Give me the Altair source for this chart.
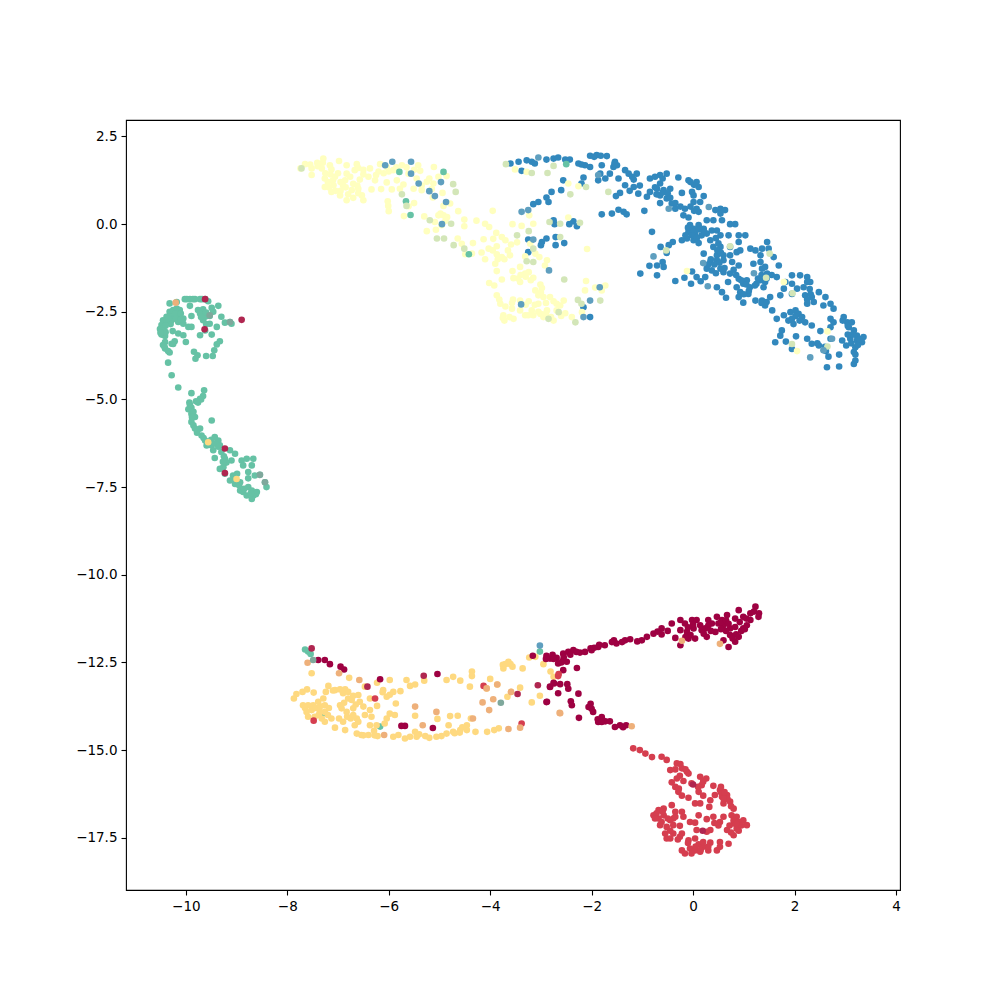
import altair as alt
import pandas as pd

GREEN = [(-10.32,-2.26),(-10.18,-2.22),(-10.02,-2.14),(-9.92,-2.14),(-9.82,-2.14),(-9.72,-2.14),(-9.62,-2.14),(-9.56,-2.20),(-9.92,-2.33),(-9.76,-2.45),(-9.66,-2.43),(-9.49,-2.39),(-9.46,-2.50),(-9.36,-2.33),(-9.69,-2.60),(-9.62,-2.64),(-9.53,-2.62),(-9.66,-2.74),(-9.53,-2.84),(-9.30,-2.64),(-9.39,-2.93),(-9.23,-2.81),(-9.13,-2.79),(-9.10,-2.84),(-9.49,-3.15),(-9.72,-3.17),(-9.62,-3.03),(-10.32,-2.50),(-10.25,-2.45),(-10.18,-2.41),(-10.12,-2.45),(-10.38,-2.64),(-10.32,-2.64),(-10.22,-2.60),(-10.12,-2.64),(-10.05,-2.69),(-10.45,-2.74),(-10.38,-2.79),(-10.28,-2.74),(-10.15,-2.79),(-10.05,-2.84),(-10.48,-2.88),(-10.51,-2.99),(-10.45,-2.98),(-10.48,-3.15),(-10.41,-3.19),(-10.26,-3.05),(-10.15,-3.12),(-10.05,-3.17),(-9.95,-2.93),(-9.89,-2.93),(-9.89,-2.62),(-10.41,-3.36),(-10.45,-3.45),(-10.41,-3.55),(-10.32,-3.66),(-10.28,-3.41),(-10.22,-3.34),(-10.0,-3.36),(-9.33,-3.34),(-9.39,-3.43),(-9.44,-3.60),(-9.47,-3.76),(-9.60,-3.76),(-9.84,-3.64),(-9.77,-3.74),(-9.81,-3.84),(-10.35,-3.95),(-10.28,-4.31),(-10.15,-4.66),(-9.89,-4.82),(-9.64,-4.74),(-9.66,-4.90),(-9.72,-4.98),(-9.76,-5.09),(-9.93,-5.09),(-9.89,-5.24),(-9.95,-5.28),(-9.89,-5.41),(-9.82,-5.50),(-9.49,-5.60),(-9.89,-5.64),(-9.85,-5.74),(-9.82,-5.83),(-9.72,-5.83),(-9.69,-6.03),(-9.62,-6.17),(-9.56,-6.22),(-9.43,-6.07),(-9.36,-6.17),(-9.49,-6.31),(-9.59,-6.31),(-9.46,-6.45),(-9.33,-6.31),(-9.30,-6.50),(-9.13,-6.45),(-9.03,-6.55),(-9.43,-6.67),(-9.23,-6.69),(-9.10,-6.74),(-9.26,-6.93),(-9.33,-6.98),(-8.90,-6.74),(-8.80,-6.69),(-8.67,-6.69),(-8.87,-6.88),(-8.70,-6.88),(-8.77,-7.07),(-9.23,-7.12),(-9.07,-7.17),(-8.99,-7.12),(-9.13,-7.31),(-9.03,-7.41),(-8.93,-7.36),(-8.77,-7.25),(-8.64,-7.17),(-8.54,-7.15),(-8.44,-7.36),(-8.41,-7.50),(-8.93,-7.60),(-8.87,-7.64),(-8.77,-7.50),(-8.70,-7.60),(-8.60,-7.64),(-8.80,-7.74),(-8.67,-7.74),(-8.70,-7.84),
(-7.65,-12.13),(-7.59,-12.19),(-7.54,-12.26),(-3.02,-12.19),(-7.31,-13.96),(-6.17,-14.33),
(-5.79,1.49),(-5.57,0.26),(-4.92,1.49),(-4.42,-0.86),(-5.66,0.65),(-2.50,1.71),
(-10.2,-2.55),(-10.1,-2.55),(-10.2,-2.7),(-10.1,-2.72),(-10.3,-2.85),(-10.4,-2.9),(-10.45,-3.05),(-10.4,-3.08),(-10.5,-3.1),(-10.35,-2.7),(-10.25,-3.42),(-10.42,-3.5),(-10.35,-3.62),(-9.72,-2.55),(-9.6,-2.52),(-9.6,-2.85),(-9.7,-2.65),(-9.98,-2.14),(-9.86,-2.14),(-9.68,-2.14),(-9.7,-5.0),(-9.8,-5.05),(-9.92,-5.15),(-9.85,-5.35),(-9.88,-5.5),(-9.78,-5.95),(-9.65,-6.1),(-9.5,-6.15),(-9.42,-6.25),(-9.36,-6.35),(-9.25,-6.62),(-9.2,-6.8),(-9.27,-6.78),(-8.95,-7.45),(-9.07,-7.3),(-8.85,-7.55),(-8.62,-7.7),(-8.72,-7.68)]

RED = [(-1.18,-14.95),(-1.05,-15.0),(-0.94,-15.10),(-0.81,-15.20),(-0.62,-15.19),(-0.52,-15.28),(-0.32,-15.38),(-0.45,-15.57),(-0.22,-15.52),(-0.12,-15.62),(-0.09,-15.67),(-0.26,-15.73),(-0.19,-15.88),(-0.42,-15.92),(-0.32,-15.81),(-0.35,-16.05),(-0.29,-16.19),(-0.22,-16.30),(-0.09,-16.36),(-0.03,-15.95),(0.14,-15.76),(0.26,-15.81),(0.17,-16.0),(0.11,-16.19),(0.20,-16.30),(0.40,-16.02),(0.53,-16.14),(0.43,-16.28),(0.34,-16.43),(0.57,-16.33),(0.67,-16.28),(0.60,-16.52),(0.73,-16.47),(0.80,-16.67),(0.04,-16.52),(0.14,-16.52),(0.32,-16.62),(-0.42,-16.57),(-0.58,-16.67),(-0.68,-16.71),(-0.78,-16.86),(-0.68,-16.95),(-0.58,-16.86),(-0.35,-16.76),(-0.22,-16.76),(-0.39,-16.95),(-0.19,-16.90),(-0.06,-17.05),(0.04,-17.07),(-0.65,-17.14),(-0.52,-17.19),(-0.39,-17.14),(-0.26,-17.16),(0.11,-16.86),(0.40,-16.90),(0.27,-16.97),(0.60,-16.90),(0.76,-16.86),(0.86,-16.90),(0.99,-17.0),(0.80,-17.09),(1.06,-17.14),(0.86,-17.24),(0.67,-17.28),(0.53,-17.05),(0.34,-17.28),(0.07,-17.28),(-0.55,-17.38),(-0.39,-17.38),(-0.22,-17.38),(-0.52,-17.52),(-0.26,-17.47),(-0.09,-17.57),(0.04,-17.52),(0.80,-17.43),(0.27,-17.33),(0.53,-17.62),(0.70,-17.67),(0.34,-17.64),(0.11,-17.69),(0.20,-17.76),(-0.06,-17.81),(0.04,-17.86),(-0.22,-17.86),(-0.16,-17.95),(-0.03,-17.95),(0.14,-17.90),(0.30,-17.86),(0.47,-17.86),(0.53,-17.76),(-0.45,-17.52),
(-4.13,-13.17),(-7.48,-14.16),(-3.38,-14.24),(-6.27,-13.53),(-2.65,-12.83),(-2.66,-12.89),
(0.55,-16.2),(0.62,-16.2),(0.68,-16.4),(0.6,-16.38),(0.75,-16.6),(0.8,-17.0),(0.9,-17.05),(0.95,-17.15),(0.72,-17.15),(0.85,-17.1),(0.9,-17.3),(0.75,-17.35),(-0.72,-16.8),(-0.6,-16.75),(-0.75,-16.95),(-0.62,-17.05),(-0.5,-16.95),(-0.45,-17.0),(-0.35,-16.9),(-0.1,-17.65),(0.2,-17.62),(0.05,-17.75),(0.15,-17.85),(0.3,-17.75),(-0.45,-17.3),(-0.3,-17.55),(0.2,-15.9),(0.1,-16.05),(-0.28,-16.1),(-0.35,-15.55),(-0.25,-15.4),(-0.15,-15.55),(0.5,-17.15),(0.42,-17.08),(0.55,-16.05)]

CRIMSON = [(-3.16,-12.31),(-2.89,-12.31),(-2.77,-12.28),(-2.69,-12.37),(-2.82,-12.39),(-2.56,-12.25),(-2.46,-12.20),(-2.36,-12.15),(-2.23,-12.22),(-2.13,-12.20),(-2.02,-12.10),(-2.0,-12.15),(-1.87,-12.06),(-1.74,-12.01),(-1.56,-11.87),(-1.51,-11.96),(-1.34,-11.87),(-1.24,-11.84),(-1.01,-11.87),(-0.91,-11.77),(-0.78,-11.68),(-0.62,-11.53),(-0.62,-11.70),(-0.42,-11.39),(-0.35,-11.80),(-0.25,-12.01),(-0.25,-11.29),(-0.16,-11.39),(-0.02,-11.29),(0.07,-11.29),(-0.25,-11.58),(-0.12,-11.63),(0.01,-11.53),(0.04,-11.82),(0.17,-11.58),(0.27,-11.77),(0.30,-11.29),(0.37,-11.39),(0.47,-11.20),(0.57,-11.29),(0.67,-11.15),(0.24,-11.53),(0.44,-11.63),(0.60,-11.44),(0.73,-11.53),(0.90,-11.01),(0.83,-11.25),(0.73,-11.72),(0.90,-11.77),(1.06,-11.44),(0.99,-11.53),(1.13,-11.10),(1.23,-10.91),(1.29,-11.20),(0.60,-11.87),(0.70,-12.06),(0.83,-11.91),(-2.56,-12.44),(-2.49,-12.48),(-2.29,-12.66),(-2.66,-12.53),(-2.56,-12.72),(-2.74,-13.10),(-2.82,-13.20),(-2.62,-13.12),(-2.48,-13.12),(-2.46,-13.25),(-2.66,-13.38),(-2.26,-13.39),(-2.89,-13.63),(-2.41,-13.61),(-2.39,-13.72),(-2.02,-13.68),(-2.06,-13.77),(-1.97,-13.91),(-2.25,-14.08),(-1.80,-14.06),(-1.87,-14.20),(-1.73,-14.18),(-1.64,-14.18),(-1.54,-14.34),(-1.44,-14.29),(-1.32,-14.29),(0.83,-11.49),(0.50,-11.39),(0.14,-11.44),(0.99,-11.20),(1.13,-11.29),(-0.09,-11.82),(0.21,-11.68),
(-7.39,-12.43),(-7.26,-12.43),(-7.16,-12.55),(-6.95,-12.62),(-6.88,-12.70),(-6.17,-12.98),(-5.68,-14.31),(-5.75,-14.31),(-5.13,-14.37),(-5.04,-12.83),(-2.88,-13.62),(-2.82,-13.19),(-2.75,-13.08),
(0.55,-11.35),(0.65,-11.3),(0.7,-11.4),(0.95,-11.6),(0.85,-11.7),(0.65,-11.6),(0.55,-11.55),(0.35,-11.6),(0.3,-11.45),(0.0,-11.42),(-0.1,-11.5),(-0.05,-11.72),(-0.15,-11.78),(1.05,-11.25),(1.2,-11.05),(1.3,-11.1),(1.02,-11.55),(0.78,-11.82),(0.92,-11.35),(-0.5,-11.6),(-0.7,-11.62),(-1.1,-11.9),(-1.4,-11.92),(-1.6,-11.92),(-1.85,-12.0),(-1.95,-12.08),(-2.3,-12.2),(-2.42,-12.28),(-2.55,-12.35),(-2.6,-12.5),(-2.9,-12.4),(-2.75,-12.4),(-1.88,-14.12),(-1.8,-14.2),(-2.0,-13.82),(-1.38,-14.35)]

ORANGE = [(-7.87,-13.53),(-7.82,-13.40),(-7.70,-13.34),(-7.61,-13.27),(-7.48,-13.36),(-7.19,-13.17),(-7.24,-13.34),(-7.06,-13.29),(-6.96,-13.27),(-6.86,-13.27),(-6.80,-13.34),(-7.69,-13.72),(-7.59,-13.72),(-7.49,-13.72),(-7.39,-13.62),(-7.29,-13.53),(-7.26,-13.72),(-7.39,-13.81),(-7.62,-13.91),(-7.52,-13.86),(-7.36,-13.91),(-7.26,-13.91),(-7.59,-14.05),(-7.46,-14.05),(-7.32,-14.10),(-7.26,-14.19),(-7.13,-14.10),(-7.06,-14.36),(-6.98,-14.10),(-6.90,-14.19),(-6.86,-14.43),(-6.96,-13.72),(-6.93,-13.81),(-6.83,-13.91),(-6.70,-13.81),(-6.80,-13.53),(-6.73,-13.57),(-6.60,-13.43),(-6.57,-13.62),(-6.50,-13.76),(-6.37,-13.86),(-6.47,-14.0),(-6.34,-14.05),(-6.23,-13.74),(-5.86,-13.67),(-6.11,-13.29),(-6.04,-13.48),(-5.91,-13.34),(-5.77,-13.32),(-6.47,-13.19),(-6.37,-13.53),(-6.78,-12.94),(-6.23,-13.08),(-5.98,-13.0),(-5.65,-13.0),(-5.58,-13.17),(-5.48,-13.13),(-5.30,-13.02),(-4.86,-13.0),(-4.73,-12.91),(-4.59,-13.02),(-4.36,-12.76),(-4.36,-12.89),(-4.40,-13.19),(-4.0,-12.97),(-4.07,-13.24),(-3.86,-13.13),(-3.74,-12.67),(-3.64,-12.48),(-3.56,-12.62),(-3.36,-12.67),(-3.75,-12.57),(-3.41,-13.22),(-3.59,-13.34),(-3.66,-13.48),(-3.18,-13.64),(-3.02,-13.45),(-3.23,-12.36),(-3.11,-12.34),(-2.81,-12.76),(-2.75,-12.91),(-6.63,-14.10),(-6.60,-14.19),(-6.67,-14.29),(-6.37,-14.29),(-6.24,-14.29),(-6.08,-14.24),(-5.98,-13.96),(-5.88,-14.0),(-6.04,-14.10),(-5.48,-14.02),(-5.04,-14.11),(-4.79,-14.03),(-4.64,-14.02),(-4.38,-14.10),(-4.46,-14.29),(-4.82,-14.29),(-4.86,-14.53),(-4.73,-14.48),(-4.59,-14.43),(-4.46,-14.43),(-4.29,-14.48),(-4.06,-14.48),(-3.92,-14.43),(-3.83,-14.38),(-6.63,-14.53),(-6.54,-14.57),(-6.40,-14.57),(-6.22,-14.60),(-6.29,-14.45),(-5.91,-14.62),(-5.81,-14.57),(-5.68,-14.67),(-5.48,-14.48),(-5.45,-14.62),(-5.58,-14.62),(-5.06,-14.62),(-4.96,-14.60),(-7.52,-12.81),(-2.95,-12.55),(-9.56,-6.22),(-9.00,-7.27),
(-7.45,-13.8),(-7.35,-13.75),(-7.18,-13.8),(-7.2,-14.0),(-7.38,-14.0),(-7.65,-13.8),(-7.1,-13.3),(-6.9,-13.38),(-6.88,-13.65),(-6.7,-13.45),(-6.65,-13.7),(-6.82,-14.05),(-6.75,-14.1),(-6.7,-14.0),(-5.4,-14.55),(-5.28,-14.6),(-5.2,-14.65),(-4.7,-14.52),(-4.6,-14.5),(-4.55,-14.35),(-6.12,-13.35),(-5.98,-13.42),(-6.5,-14.58),(-6.28,-14.58),(-3.7,-12.55),(-3.6,-12.55)]

ORANGE_MIX = [(-7.60,-12.51),(-6.98,-12.81),(-6.58,-13.0),(-5.48,-13.76),(-5.33,-14.29),(-5.06,-13.91),(-3.94,-13.55),(-4.15,-13.64),(-4.02,-13.86),(-2.63,-13.94),(-4.34,-14.10),(-3.64,-14.40),(-3.41,-14.36),(-6.09,-14.57),(-3.59,-13.34),(-3.86,-13.13),(-4.07,-13.24),(-10.20,-2.24),(-0.22,-11.88),(0.53,-11.97),(-1.21,-14.32),(-2.62,-13.95)]

PALE = [(-7.74,1.59),(-7.65,1.71),(-7.52,1.59),(-7.52,1.40),(-7.41,1.75),(-7.32,1.59),(-7.29,1.87),(-7.16,1.68),(-7.13,1.56),(-6.98,1.80),(-6.83,1.68),(-6.63,1.71),(-6.67,1.54),(-6.50,1.42),(-6.57,1.27),(-6.83,1.44),(-7.06,1.35),(-7.26,1.30),(-7.26,1.06),(-7.09,1.11),(-6.86,1.25),(-6.76,1.35),(-7.13,0.92),(-6.96,0.82),(-6.83,0.68),(-6.73,0.97),(-6.60,1.01),(-6.53,0.82),(-6.50,0.68),(-6.34,0.99),(-6.15,1.0),(-6.27,1.25),(-6.37,1.59),(-6.17,1.71),(-6.04,1.63),(-5.91,1.54),(-5.74,1.68),(-5.61,1.44),(-6.04,1.19),(-5.84,1.25),(-5.94,0.99),(-5.78,1.01),(-5.71,1.13),(-5.51,1.01),(-5.42,1.68),(-5.38,1.52),(-5.45,1.30),(-5.35,0.97),(-5.25,1.21),(-5.12,1.16),(-5.11,1.63),(-5.02,1.35),(-4.86,1.37),(-4.94,0.89),(-5.13,0.76),(-4.92,0.52),(-4.79,0.59),(-5.50,0.60),(-5.61,0.51),(-6.02,0.65),(-6.01,0.52),(-6.0,0.37),(-5.70,0.23),(-5.30,0.22),(-5.02,0.25),(-4.92,0.25),(-5.09,0.06),(-4.96,-0.03),(-4.51,0.13),(-4.51,-0.06),(-4.63,0.37),(-3.95,0.38),(-4.27,0.10),(-4.10,0.01),(-4.02,-0.08),(-5.25,-0.20),(-5.07,-0.16),(-4.64,-0.41),(-4.56,-0.56),(-4.49,-0.86),(-4.34,-0.54),(-4.36,-0.84),(-4.17,-0.81),(-4.10,-1.0),(-4.03,-0.70),(-4.13,-0.43),(-3.94,-0.42),(-3.87,-0.63),(-3.87,-0.86),(-3.77,-0.94),(-3.61,-0.89),(-3.88,-0.25),(-3.77,-0.37),(-3.70,-0.46),(-3.56,-0.0),(-3.38,-0.05),(-3.59,-0.58),(-3.47,-0.52),(-3.15,0.01),(-3.23,0.25),(-3.21,-0.56),(-3.31,-0.92),(-3.11,-0.84),(-3.03,-0.94),(-2.88,-1.03),(-2.92,-1.18),(-3.90,-1.13),(-3.87,-1.34),(-3.56,-1.34),(-3.41,-1.22),(-3.54,-1.54),(-3.41,-1.65),(-3.31,-1.41),(-3.15,-1.53),(-3.24,-1.37),(-3.77,-1.58),(-4.02,-1.68),(-3.92,-1.75),(-3.01,-1.72),(-3.11,-1.89),(-3.05,-2.03),(-3.87,-2.03),(-3.80,-2.27),(-3.57,-2.25),(-3.41,-2.18),(-3.24,-2.20),(-3.05,-2.27),(-2.95,-2.08),(-2.82,-2.08),(-2.69,-2.27),(-2.55,-2.18),(-2.69,-2.46),(-2.88,-2.46),(-3.01,-2.56),(-3.18,-2.46),(-3.41,-2.46),(-3.57,-2.41),(-3.74,-2.60),(-3.72,-2.75),(-3.54,-2.70),(-3.31,-2.60),(-3.15,-2.60),(-2.95,-2.65),(-2.75,-2.75),(-2.52,-2.54),(-2.39,-2.65),(-2.19,-2.51),(-2.11,-1.62),(-2.13,-1.89),(-1.93,-1.81),(-1.80,-1.89),(-1.73,-1.75),(-2.09,-0.71),(-2.46,0.19),(-3.51,1.56),(-3.28,1.49),(-2.26,1.08),(-2.46,1.16),(-7.0,1.45),(-6.9,1.1),(-6.95,0.95),(-7.2,1.2),(-6.7,1.15),(-6.5,1.55),(-6.2,1.5),(-6.6,1.6),
(-0.12,-1.34),(1.79,-1.65),(2.65,-3.06),(2.05,-3.62),
(-7.55,1.7),(-7.4,1.65),(-7.3,1.75),(-7.25,1.45),(-7.15,1.42),(-7.1,1.25),(-7.18,1.05),(-7.05,0.95),(-6.95,1.2),(-6.85,1.05),(-6.8,0.85),(-6.7,0.75),(-6.6,0.88),(-6.62,1.1),(-6.4,1.35),(-6.25,1.4),(-6.1,1.45),(-6.0,1.5),(-5.85,1.62),(-5.65,1.62),(-5.5,1.55),(-5.2,1.3),(-5.35,1.1),(-5.15,1.0),(-4.98,0.3),(-4.88,0.1),(-4.85,0.2),(-3.95,-0.75),(-3.65,-0.75),(-3.72,-1.0),(-3.85,-1.0),(-3.3,-1.5),(-3.4,-1.45),(-3.45,-1.55),(-3.2,-1.6),(-2.98,-1.82),(-3.0,-1.95),(-3.55,-2.15),(-3.3,-2.3),(-3.12,-2.3),(-2.9,-2.25),(-2.75,-2.2),(-2.62,-2.32),(-2.9,-2.55),(-3.05,-2.5),(-3.25,-2.6),(-3.62,-2.65),(-3.75,-2.68),(-2.8,-2.65),(-2.6,-2.62),(-3.82,-2.15),(-3.7,-2.35)]

PALE_MIX = [(-7.72,1.59),(-5.74,0.85),(-5.65,0.52),(-5.19,0.11),(-4.77,0.01),(-5.05,-0.41),(-4.91,-0.41),(-4.72,-0.60),(-4.51,-0.70),(-3.24,-0.20),(-3.47,-0.32),(-3.15,-0.70),(-3.28,-1.06),(-3.15,-1.08),(-2.54,-1.58),(-2.27,-2.16),(-2.20,-2.27),(-2.65,-2.51),(-2.85,-2.70),(-2.32,-2.80),(-3.69,1.71),(-3.18,1.46),(-2.87,1.46),(-2.75,1.66),(-2.11,1.06),(-2.42,0.85),(-1.67,0.92),(-2.83,0.06),(-2.62,0.01),(-2.23,0.04),(-2.62,-0.37),(-1.83,-2.18),(-4.73,1.14),(-4.68,0.92),(0.73,-0.63),(1.51,-0.84),(1.96,-1.97),(1.44,-1.53),(-0.53,-0.75),(2.65,-3.49),(1.95,-3.42)]

BLUE = [(-3.60,1.73),(-3.44,1.78),(-3.28,1.82),(-3.18,1.78),(-3.12,1.73),(-3.38,1.52),(-2.89,1.84),(-2.75,1.87),(-2.66,1.90),(-2.52,1.84),(-2.43,1.84),(-2.26,1.73),(-2.13,1.68),(-2.03,1.63),(-2.03,1.95),(-1.90,1.97),(-1.70,1.94),(-1.80,1.68),(-1.83,1.44),(-1.87,1.25),(-1.73,1.30),(-1.54,1.78),(-1.57,1.63),(-1.50,1.68),(-1.64,1.44),(-1.34,1.54),(-1.27,1.44),(-1.11,1.44),(-1.47,1.30),(-1.17,1.27),(-1.34,1.11),(-1.44,0.89),(-1.52,0.80),(-1.17,1.06),(-1.08,0.87),(-0.91,0.78),(-0.85,1.30),(-0.65,1.40),(-0.52,1.44),(-0.29,1.33),(-0.09,1.25),(0.07,1.20),(0.11,1.06),(-0.02,0.92),(0.01,0.82),(-0.22,0.89),(0.21,0.80),(-0.65,1.16),(-0.71,1.01),(-0.85,0.92),(-0.58,0.97),(-0.65,0.82),(-0.45,1.01),(-0.52,0.73),(-0.42,0.59),(-0.35,0.44),(-0.65,0.60),(0.01,0.63),(0.14,0.63),(0.07,0.44),(-0.16,0.44),(0.11,0.35),(-0.19,0.25),(-0.09,0.19),(0.44,0.40),(0.54,0.44),(0.63,0.40),(0.54,0.30),(0.57,0.11),(0.27,0.11),(0.40,0.11),(0.83,-0.0),(0.73,-0.0),(-2.56,1.25),(-2.20,1.16),(-2.16,1.33),(-2.79,0.92),(-2.60,0.97),(-2.89,0.76),(-2.85,0.63),(-3.15,0.57),(-3.05,0.63),(-1.80,0.28),(-1.60,0.30),(-1.47,0.41),(-1.37,0.35),(-1.31,0.28),(-0.96,0.38),(-2.75,0.11),(-2.73,-0.0),(-2.44,-0.0),(-2.36,0.08),(-2.29,-0.06),(-0.81,-0.22),(-2.89,-0.41),(-2.98,-0.51),(-2.71,-0.37),(-2.71,-0.60),(-2.54,-0.54),(-3.25,-0.80),(-0.06,-0.03),(0.01,-0.13),(0.11,-0.03),(0.21,-0.13),(-0.09,-0.22),(0.04,-0.27),(0.17,-0.32),(0.27,-0.27),(-0.22,-0.46),(-0.12,-0.41),(0.01,-0.46),(0.11,-0.54),(0.34,-0.46),(0.37,-0.18),(0.47,-0.18),(0.54,-0.32),(0.70,-0.32),(0.90,-0.32),(1.03,-0.32),(-0.40,-0.51),(-0.48,-0.60),(-0.64,-0.65),(-0.52,-0.82),(-0.86,-1.19),(-0.71,-1.18),(-0.60,-1.08),(-0.58,-1.22),(-1.04,-1.41),(-0.71,-1.46),(-0.35,-1.62),(-0.17,-1.53),(-0.04,-1.70),(-0.02,-1.35),(0.07,-1.51),(0.15,-1.63),(0.24,-1.51),(0.21,-0.84),(0.40,-0.65),(0.54,-0.65),(0.47,-0.89),(0.60,-0.89),(0.73,-0.65),(0.90,-0.51),(0.86,-0.80),(0.73,-0.89),(0.93,-0.75),(1.13,-0.70),(1.23,-0.75),(1.36,-0.70),(1.46,-0.51),(1.49,-0.70),(1.33,-0.89),(1.59,-0.94),(0.34,-1.08),(0.27,-1.27),(0.47,-1.03),(0.60,-1.03),(0.77,-1.08),(0.90,-1.18),(0.37,-1.32),(0.54,-1.27),(0.60,-1.37),(0.73,-1.41),(0.90,-1.56),(0.47,-1.80),(0.57,-1.94),(0.65,-2.10),(0.69,-1.65),(0.86,-1.80),(0.99,-1.70),(1.06,-1.60),(1.19,-1.13),(1.33,-1.08),(1.36,-1.27),(1.42,-1.22),(1.46,-1.41),(1.33,-1.60),(1.42,-1.65),(1.65,-1.51),(1.69,-1.18),(1.82,-1.65),(1.95,-1.46),(2.11,-1.46),(2.25,-1.51),(2.31,-1.65),(2.18,-1.80),(1.95,-1.70),(2.05,-1.84),(1.79,-1.84),(1.09,-1.99),(0.93,-1.94),(0.90,-2.08),(0.99,-2.24),(1.23,-2.18),(1.36,-2.18),(1.42,-2.32),(1.52,-2.08),(1.39,-1.80),(1.72,-2.03),(1.95,-1.99),(2.21,-2.03),(2.34,-2.08),(2.48,-1.94),(2.25,-2.27),(2.61,-2.08),(2.57,-2.32),(2.71,-2.27),(2.77,-2.41),(1.56,-2.46),(1.79,-2.60),(1.65,-2.70),(1.92,-2.51),(2.02,-2.46),(2.08,-2.56),(1.88,-2.75),(2.15,-2.65),(2.21,-2.80),(2.34,-2.89),(2.71,-2.70),(2.77,-2.80),(2.97,-2.65),(3.04,-2.80),(2.71,-2.94),(2.51,-3.05),(1.75,-3.03),(1.72,-3.18),(2.03,-3.20),(1.62,-3.37),(1.83,-3.35),(1.95,-3.56),(2.25,-3.27),(2.34,-3.41),(2.48,-3.46),(2.71,-3.27),(2.94,-3.32),(2.67,-3.78),(2.88,-3.72),(3.02,-3.46),(2.88,-4.06),(2.64,-4.08),(3.17,-3.99),(3.20,-3.89),(3.07,-2.94),(3.17,-3.03),(3.23,-3.18),(3.36,-3.22),(3.33,-3.37),(3.23,-3.32),(3.10,-3.27),(3.17,-3.65),(3.20,-3.51),(3.13,-2.80),
(-2.03,-2.65),(-2.16,-2.37),(-3.25,-0.44),(-3.00,-0.60),
(-1.95,1.92),(-1.82,1.95),(-2.2,1.7),(-1.55,1.72),(-1.2,1.35),(-1.05,1.1),(-1.25,0.95),(-0.75,1.35),(-0.6,1.3),(-0.75,1.05),(-0.6,0.9),(-0.5,0.88),(-0.72,0.85),(-0.45,0.75),(-0.35,0.6),(0.02,1.12),(-0.05,1.2),(-0.25,0.5),(-0.05,0.5),(0.02,0.38),(-0.1,-0.1),(0.0,-0.22),(0.12,-0.15),(-0.02,-0.32),(0.08,-0.38),(0.22,-0.22),(-0.15,-0.32),(0.45,-0.4),(0.5,-0.55),(0.48,-0.75),(0.55,-0.82),(0.35,-1.0),(0.42,-1.15),(0.52,-1.1),(0.3,-1.15),(0.45,-1.4),(0.62,-1.25),(0.8,-1.3),(0.85,-1.45),(0.95,-1.6),(1.05,-1.72),(1.12,-1.8),(1.1,-1.9),(1.0,-2.0),(1.25,-1.7),(1.35,-1.45),(1.28,-1.55),(1.22,-1.75),(1.45,-1.55),(1.55,-1.45),(1.35,-2.25),(1.45,-2.22),(1.95,-2.7),(2.02,-2.62),(2.1,-2.75),(1.98,-2.85),(2.25,-1.65),(2.3,-1.85),(2.32,-2.0),(2.25,-2.15),(2.38,-2.22),(2.45,-3.4),(2.6,-3.5),(2.62,-3.62),(3.05,-2.9),(3.15,-3.15),(3.05,-3.15),(3.12,-3.4),(3.25,-3.45),(3.2,-3.72),(3.28,-3.28),(2.95,-2.75)]

BLUE_MIX = [(-3.05,1.90),(-3.38,0.35),(-3.25,0.40),(-1.87,1.40),(0.31,0.49),(-0.48,0.44),(-0.78,-0.92),(0.20,-1.11),(0.29,-1.77),(1.2,-1.40),(2.74,-3.27),(2.57,-3.60),(2.31,-3.80),(-6.07,1.68),(-5.93,1.78),(-5.56,1.44),(-5.56,1.78),(-4.97,1.20),(-5.09,0.80),(-4.87,0.63),(-4.95,-0.0),(-5.2,0.94),(-5.41,1.16),(-3.15,-0.44),(-2.84,-1.32),(-2.03,-2.18),(-2.16,-2.65),(-3.39,-2.29),(-1.84,-1.80),(-3.02,-12.02)]

CRIMSON_MIX = [(-7.52,-12.10),(-5.31,-12.88),(-6.42,-13.19),(-3.46,-13.40),(-3.06,-13.15),(-9.62,-2.14),(-9.63,-3.0),(-8.90,-2.73),(-9.23,-6.40),(-9.23,-7.10),(0.19,-17.30),(0.0,-15.98)]

GREY_MIX = [(-7.49,-12.43),(-3.79,-13.65),(-9.53,-2.60),(-9.13,-2.79),(-8.54,-7.15),(-8.44,-7.36)]

SERIES = [
    (BLUE, "blue"), (PALE, "pale"), (GREEN, "green"), (ORANGE, "orange"),
    (CRIMSON, "crimson"), (RED, "red"), (PALE_MIX, "pale mix"),
    (BLUE_MIX, "blue mix"), (ORANGE_MIX, "orange mix"),
    (CRIMSON_MIX, "crimson mix"), (GREY_MIX, "grey mix"),
]
NAMES = [s[1] for s in SERIES]
COLORS = ["#3288bd", "#ffffbf", "#66c2a5", "#fed980", "#9e0142", "#d53e4f",
          "#d3e6b8", "#5f9fbf", "#eeb07a", "#b02650", "#7fa89c"]
X_TICKS = [-10, -8, -6, -4, -2, 0, 2, 4]
Y_TICKS = [-17.5, -15.0, -12.5, -10.0, -7.5, -5.0, -2.5, 0.0, 2.5]

rows = [{"x": p[0], "y": p[1], "group": name} for pts, name in SERIES for p in pts]
df = pd.DataFrame(rows)

axis_style = dict(grid=False, domain=False, tickColor="black", tickWidth=1.1, tickSize=5,
                  labelColor="black", labelFont="DejaVu Sans", labelFontSize=13.5,
                  labelPadding=4, title=None)

chart = (
    alt.Chart(df)
    .mark_circle(size=44, opacity=1, stroke=None)
    .encode(
        x=alt.X("x:Q", scale=alt.Scale(domain=[-11.18, 4.08], nice=False, zero=False),
                axis=alt.Axis(values=X_TICKS, format="d", **axis_style)),
        y=alt.Y("y:Q", scale=alt.Scale(domain=[-18.99, 2.97], nice=False, zero=False),
                axis=alt.Axis(values=Y_TICKS, format=".1f", **axis_style)),
        color=alt.Color("group:N", scale=alt.Scale(domain=NAMES, range=COLORS), legend=None),
    )
    .properties(
        width=774, height=770,
        autosize=alt.AutoSizeParams(type="none"),
        padding={"left": 118, "top": 112, "right": 92, "bottom": 102},
        background="white",
    )
    .configure_view(stroke="black", strokeWidth=1.1)
)

chart.save("out.html", embed_options={"renderer": "svg", "actions": False})
